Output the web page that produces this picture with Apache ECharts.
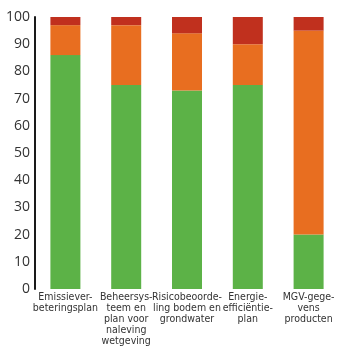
<!DOCTYPE html>
<html>
<head>
<meta charset="utf-8">
<script src="https://cdn.jsdelivr.net/npm/echarts@6/dist/echarts.min.js"></script>
<style>
  html, body { margin: 0; padding: 0; background: #fff; }
  #main { width: 339px; height: 347px; }
</style>
</head>
<body>
<div id="main"></div>
<script>
var categories = [
  'Emissiever-\nbeteringsplan',
  'Beheersys-\nteem en\nplan voor\nnaleving\nwetgeving',
  'Risicobeoorde-\nling bodem en\ngrondwater',
  'Energie-\nefficiëntie-\nplan',
  'MGV-gege-\nvens\nproducten'
];
var greenVals = [86, 75, 73, 75, 20];
var orangeVals = [11, 22, 21, 15, 75];
var redVals = [3, 3, 6, 10, 5];

var myChart = echarts.init(document.getElementById('main'));
var option = {
  animation: false,
  grid: { left: 35, top: 17, width: 311, height: 275 },
  xAxis: {
    type: 'category',
    data: categories,
    axisLine: { show: false },
    axisTick: { show: false },
    axisLabel: {
      interval: 0,
      margin: 3,
      color: '#333',
      fontSize: 10.5,
      lineHeight: 11,
      fontFamily: 'DejaVu Sans Condensed'
    }
  },
  yAxis: {
    type: 'value',
    min: 0,
    max: 100,
    interval: 10,
    axisLine: { show: true, lineStyle: { color: '#1a1a1a', width: 2 } },
    axisTick: { show: false },
    splitLine: { show: false },
    axisLabel: { color: '#333', fontSize: 14, margin: 5, fontFamily: 'Open Sans' }
  },
  series: [
    { name: 'groen', type: 'bar', stack: 'a', barWidth: 30, data: greenVals, itemStyle: { color: '#5cb247' } },
    { name: 'oranje', type: 'bar', stack: 'a', barWidth: 30, data: orangeVals, itemStyle: { color: '#e86e20' } },
    { name: 'rood', type: 'bar', stack: 'a', barWidth: 30, data: redVals, itemStyle: { color: '#c0301e' } }
  ]
};
myChart.setOption(option);
</script>
</body>
</html>
